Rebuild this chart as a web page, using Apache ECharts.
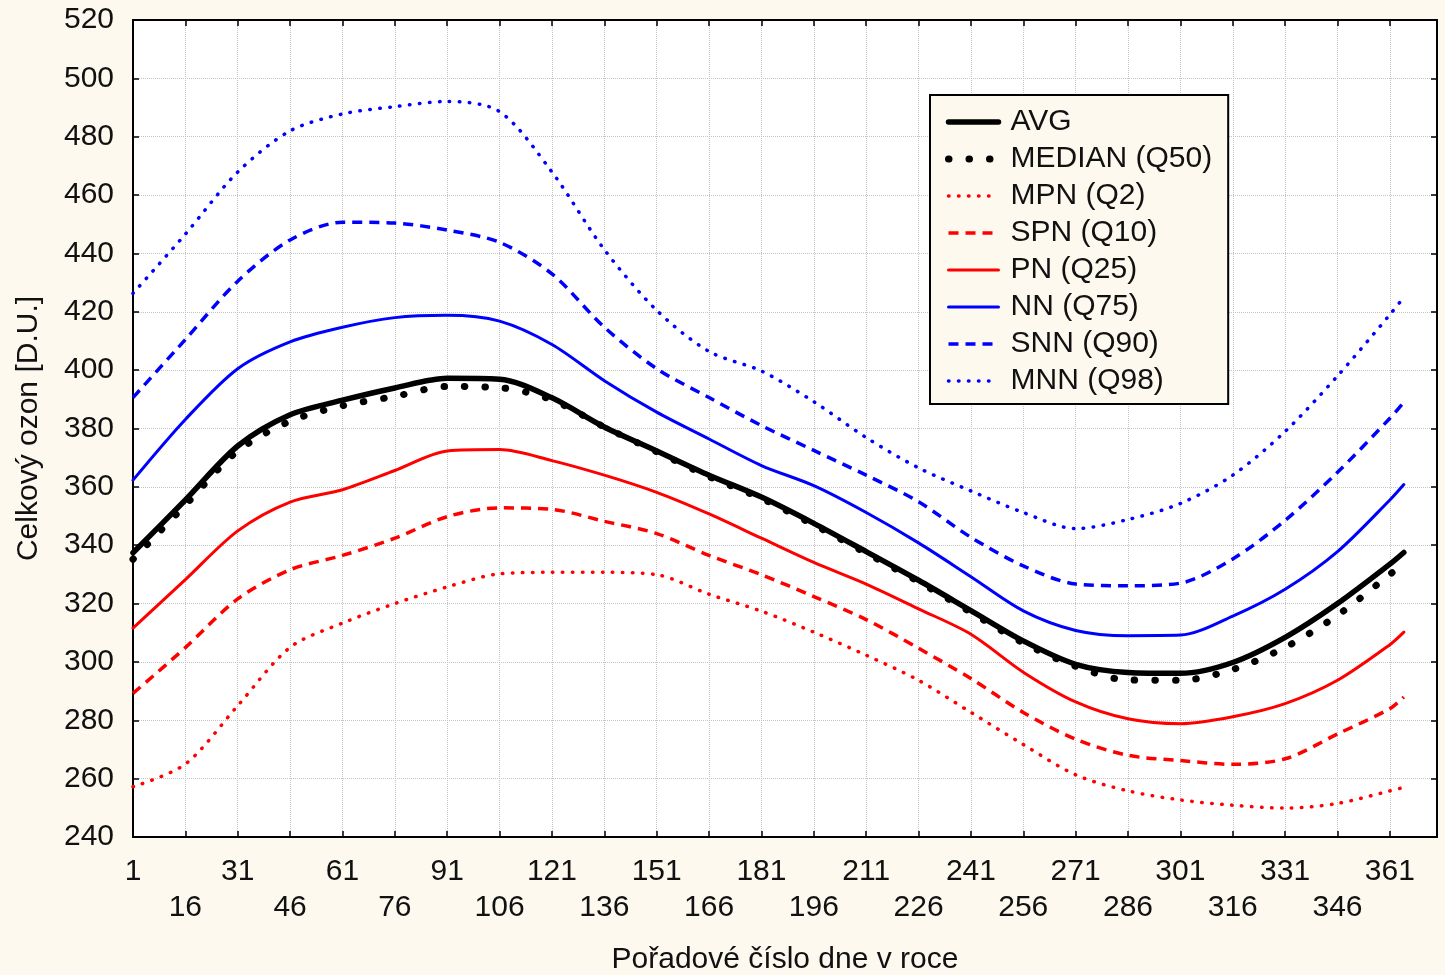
<!DOCTYPE html>
<html>
<head>
<meta charset="utf-8">
<script src="https://cdn.jsdelivr.net/npm/echarts@6/dist/echarts.min.js"></script>
<style>
  html, body { margin: 0; padding: 0; background: #fdf9ef; }
  #chart { width: 1445px; height: 975px; }
</style>
</head>
<body>
<div id="chart"></div>
<script>
// Day of year at which each curve value is given
const days = [1, 16, 31, 46, 61, 76, 91, 106, 121, 136, 151, 166, 181, 196, 211, 226, 241, 256, 271, 286, 301, 316, 331, 346, 361, 365];

// Total ozone climatology [D.U.]
const avg    = [337.4, 355.5, 374.0, 384.7, 389.7, 393.9, 397.2, 396.9, 390.5, 380.5, 372.3, 364.0, 356.5, 347.5, 337.8, 328.0, 317.6, 307.2, 299.2, 296.4, 296.1, 299.8, 308.4, 320.0, 333.5, 337.5];
const median = [335.2, 353.8, 372.3, 382.5, 387.8, 391.0, 394.4, 394.0, 389.8, 380.5, 372.0, 363.5, 356.0, 347.0, 337.3, 327.5, 317.0, 306.5, 298.5, 293.8, 293.7, 297.4, 305.0, 316.0, 330.0, 334.0];
const mpn    = [257.2, 265.0, 285.0, 305.0, 313.3, 320.0, 325.7, 330.2, 330.7, 330.7, 329.9, 323.2, 317.4, 310.2, 302.3, 293.7, 282.7, 271.7, 261.3, 255.8, 252.7, 250.9, 249.9, 251.5, 255.8, 257.0];
const spn    = [289.2, 304.9, 321.6, 331.6, 336.5, 342.4, 349.8, 352.8, 352.3, 348.2, 344.0, 336.5, 329.9, 322.4, 314.5, 304.7, 294.3, 282.7, 273.5, 268.0, 266.2, 264.9, 266.8, 275.3, 284.0, 288.0];
const pn     = [311.6, 328.2, 344.9, 354.8, 359.0, 365.6, 372.3, 372.8, 369.0, 364.0, 358.1, 350.7, 342.4, 334.1, 326.7, 318.2, 309.5, 296.5, 286.3, 280.5, 278.8, 281.2, 285.7, 293.7, 305.9, 310.2];
const nn     = [362.3, 383.1, 400.5, 409.7, 414.7, 418.0, 418.8, 416.8, 408.8, 396.4, 385.6, 376.4, 367.3, 360.4, 351.2, 340.8, 329.2, 317.5, 310.8, 309.0, 309.2, 315.7, 324.9, 337.8, 355.5, 360.8];
const snn    = [390.6, 410.5, 430.5, 444.6, 450.7, 450.4, 448.0, 443.8, 433.0, 414.7, 400.5, 390.6, 381.0, 372.5, 364.0, 354.9, 342.7, 332.9, 326.7, 326.1, 327.0, 335.3, 348.5, 365.0, 383.5, 389.0];
const mnn    = [426.3, 446.6, 467.9, 482.0, 487.8, 490.3, 492.1, 488.6, 467.9, 441.3, 420.5, 406.4, 399.7, 389.2, 376.9, 366.5, 358.6, 351.2, 345.7, 348.8, 354.3, 364.0, 379.0, 398.0, 419.0, 425.0];

const seriesNames = ['AVG', 'MEDIAN (Q50)', 'MPN (Q2)', 'SPN (Q10)', 'PN (Q25)', 'NN (Q75)', 'SNN (Q90)', 'MNN (Q98)'];

const FONT = '"Liberation Sans", Arial, sans-serif';
const TEXT = '#111';
const RED = '#ff0000';
const BLUE = '#0000ff';

// Stroke styles per curve, shared by the plotted line and its legend key
const styles = {
  'AVG':          { color: '#000000', width: 5.5, type: 'solid',    cap: 'round', z: 10 },
  'MEDIAN (Q50)': { color: '#000000', width: 7,   type: [0.5, 20],  cap: 'round', z: 11 },
  'MPN (Q2)':     { color: RED,       width: 3.5, type: [0.5, 9.5], cap: 'round', z: 5 },
  'SPN (Q10)':    { color: RED,       width: 3.5, type: [10, 7],    cap: 'butt',  z: 5 },
  'PN (Q25)':     { color: RED,       width: 3,   type: 'solid',    cap: 'round', z: 5 },
  'NN (Q75)':     { color: BLUE,      width: 3,   type: 'solid',    cap: 'round', z: 5 },
  'SNN (Q90)':    { color: BLUE,      width: 3.5, type: [10, 7],    cap: 'butt',  z: 5 },
  'MNN (Q98)':    { color: BLUE,      width: 3.5, type: [0.5, 9.5], cap: 'round', z: 5 }
};

const values = {
  'AVG': avg, 'MEDIAN (Q50)': median, 'MPN (Q2)': mpn, 'SPN (Q10)': spn,
  'PN (Q25)': pn, 'NN (Q75)': nn, 'SNN (Q90)': snn, 'MNN (Q98)': mnn
};

const toPairs = arr => days.map((d, i) => [d, arr[i]]);

const series = seriesNames.map(name => {
  const s = styles[name];
  return {
    type: 'line',
    name: name,
    data: toPairs(values[name]),
    symbol: 'none',
    showSymbol: false,
    smooth: 0.3,
    animation: false,
    z: s.z,
    itemStyle: { color: s.color },
    lineStyle: { color: s.color, width: s.width, type: s.type, cap: s.cap, join: 'round' }
  };
});

const legendData = seriesNames.map(name => {
  const s = styles[name];
  return {
    name: name,
    itemStyle: { opacity: 0 },
    lineStyle: { color: s.color, width: s.width, type: s.type, cap: s.cap }
  };
});

const chart = echarts.init(document.getElementById('chart'), null, { renderer: 'canvas' });

const frameAxisLine = { show: true, onZero: false, lineStyle: { color: '#000', width: 2 } };
const frameTick = { show: true, inside: true, length: 6, lineStyle: { color: '#000', width: 1.5 } };
const gridDots = { show: true, lineStyle: { color: '#c4c4c4', type: 'dotted', width: 1 } };

chart.setOption({
  backgroundColor: '#fdf9ef',
  animation: false,
  grid: {
    left: 133, right: 8, top: 20, bottom: 138,
    outerBoundsMode: 'none',
    containLabel: false,
    show: true, backgroundColor: '#ffffff', borderWidth: 0
  },
  legend: {
    orient: 'vertical',
    left: 930,
    top: 95,
    itemWidth: 50,
    itemHeight: 14,
    itemGap: 7,
    padding: [12, 16, 8, 15],
    backgroundColor: '#fdf9ef',
    borderColor: '#000',
    borderWidth: 2,
    selectedMode: false,
    itemStyle: { opacity: 0 },
    textStyle: { fontSize: 30, fontFamily: FONT, color: TEXT, lineHeight: 30, padding: [0, 0, 0, 7] },
    data: legendData
  },
  xAxis: [
    {
      type: 'value', min: 1, max: 374.5, interval: 15, position: 'bottom',
      axisLine: frameAxisLine,
      axisTick: frameTick,
      axisLabel: {
        margin: 17, fontSize: 30, fontFamily: FONT, color: TEXT, lineHeight: 36,
        formatter: v => {
          const k = (v - 1) / 15;
          if (!Number.isInteger(k)) return '';
          return k % 2 ? '\n' + v : String(v);
        }
      },
      splitLine: gridDots,
      name: 'Pořadové číslo dne v roce',
      nameLocation: 'middle',
      nameGap: 108,
      nameTextStyle: { fontSize: 30, fontFamily: FONT, color: TEXT, lineHeight: 30 }
    },
    {
      type: 'value', min: 1, max: 374.5, interval: 15, position: 'top',
      axisLine: frameAxisLine,
      axisTick: frameTick,
      axisLabel: { show: false },
      splitLine: { show: false }
    }
  ],
  yAxis: [
    {
      type: 'value', min: 240, max: 520, interval: 20, position: 'left',
      axisLine: frameAxisLine,
      axisTick: frameTick,
      axisLabel: { margin: 19, fontSize: 30, fontFamily: FONT, color: TEXT },
      splitLine: gridDots,
      name: 'Celkový ozon [D.U.]',
      nameLocation: 'middle',
      nameGap: 89,
      nameTextStyle: { fontSize: 30, fontFamily: FONT, color: TEXT, lineHeight: 30 }
    },
    {
      type: 'value', min: 240, max: 520, interval: 20, position: 'right',
      axisLine: frameAxisLine,
      axisTick: frameTick,
      axisLabel: { show: false },
      splitLine: { show: false }
    }
  ],
  series: series
});
</script>
</body>
</html>
